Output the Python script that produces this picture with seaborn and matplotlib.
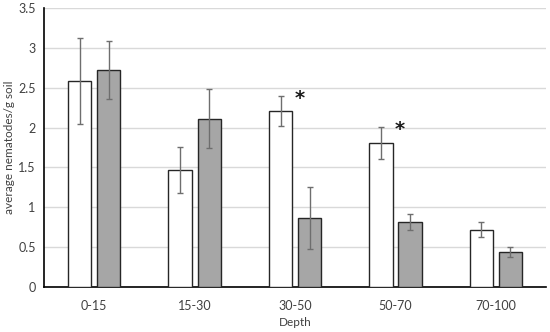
import pandas as pd
import matplotlib.pyplot as plt
import matplotlib.ticker as mticker
import seaborn as sns

depths = ['0-15', '15-30', '30-50', '50-70', '70-100']
white_means = [2.58, 1.47, 2.21, 1.81, 0.72]
white_err = [0.54, 0.29, 0.19, 0.20, 0.09]
gray_means = [2.72, 2.11, 0.87, 0.81, 0.44]
gray_err = [0.36, 0.37, 0.39, 0.10, 0.06]
significant = [False, False, True, True, False]

data = pd.DataFrame({
    'Depth': depths * 2,
    'value': white_means + gray_means,
    'group': ['A'] * 5 + ['B'] * 5,
})

sns.set_style('white')
plt.rcParams['font.family'] = ['Lato', 'DejaVu Sans']

fig = plt.figure(figsize=(5.5, 3.32), dpi=100)
ax = fig.add_axes([0.08, 0.1355, 0.913, 0.8405])

sns.barplot(data=data, x='Depth', y='value', hue='group', order=depths,
            hue_order=['A', 'B'], palette=['white', '#a6a6a6'],
            width=0.58, gap=0.2, edgecolor='#262626', linewidth=1.0,
            errorbar=None, legend=False, ax=ax, zorder=3)

# error bars on top of the bars drawn by seaborn
bars = ax.patches
errs = white_err + gray_err
means = white_means + gray_means
for bar, m, e in zip(bars, means, errs):
    cx = bar.get_x() + bar.get_width() / 2
    ax.errorbar(cx, m, yerr=e, color='#6e6e6e', lw=1.0, capsize=2.5,
                capthick=1.0, zorder=4)

for i, sig in enumerate(significant):
    if sig:
        bar = bars[i]
        cx = bar.get_x() + bar.get_width() / 2
        ax.text(cx + 0.19, white_means[i] + white_err[i] - 0.04, '*',
                fontsize=14, ha='center', va='center', color='#1a1a1a',
                fontweight='bold', family='DejaVu Sans')

ax.set_ylim(0, 3.5)
ax.set_xlim(-0.5, 4.5)
ax.yaxis.set_major_locator(mticker.MultipleLocator(0.5))
ax.yaxis.set_major_formatter(mticker.FuncFormatter(lambda v, p: f'{v:g}'))
ax.grid(axis='y', color='#d9d9d9', lw=1.0, zorder=0)
ax.set_axisbelow(True)
for s in ['top', 'right']:
    ax.spines[s].set_visible(False)
for s in ['left', 'bottom']:
    ax.spines[s].set_color('black')
    ax.spines[s].set_linewidth(1.2)
ax.tick_params(axis='y', length=0, labelsize=9, colors='#404040', pad=6)
ax.tick_params(axis='x', length=0, labelsize=9, colors='#404040', pad=9)
ax.set_xlabel('Depth', fontsize=8.5, color='#404040', labelpad=4)
ax.set_ylabel('average nematodes/g soil', fontsize=8.5, color='#404040', labelpad=2)

fig.savefig('out.png', dpi=100)
